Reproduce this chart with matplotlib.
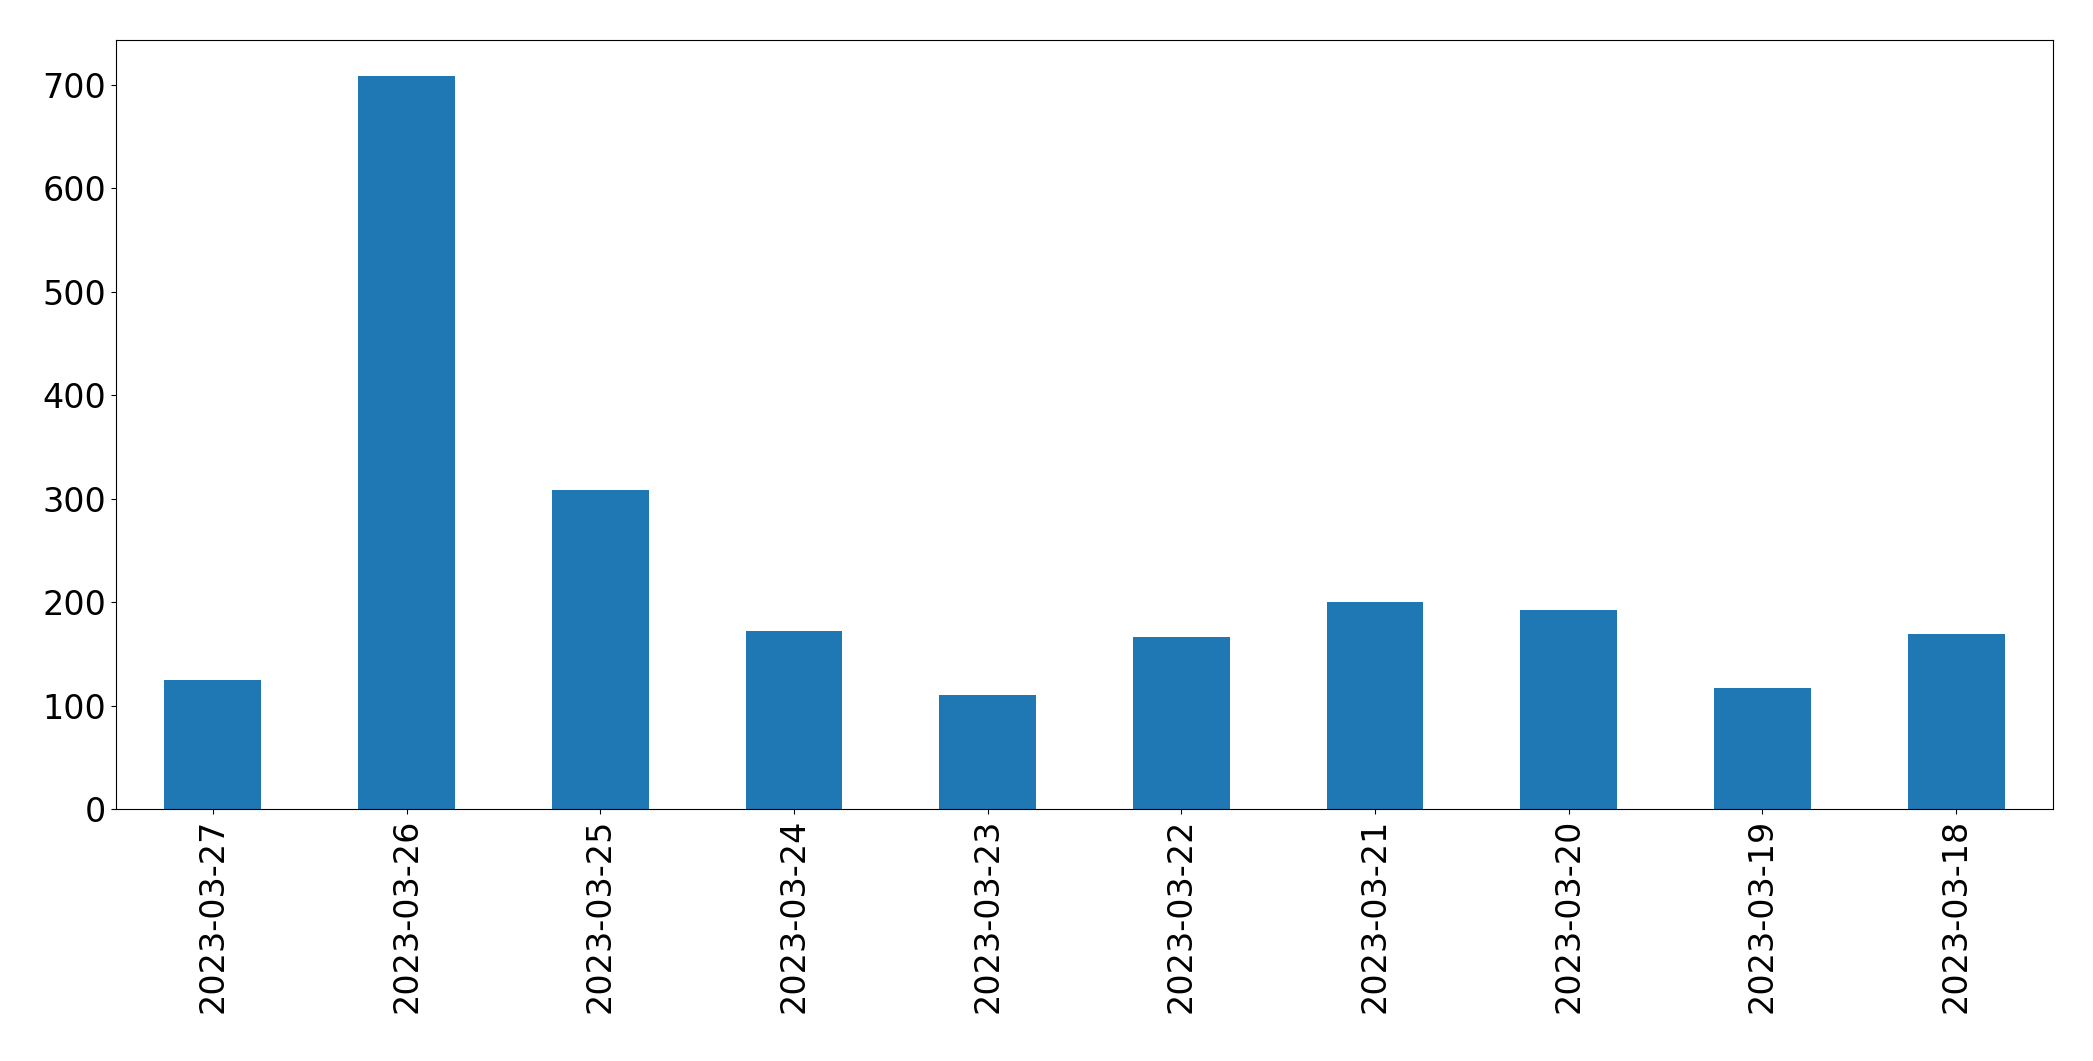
import matplotlib
matplotlib.use("Agg")
import matplotlib.pyplot as plt

dates = ["2023-03-27","2023-03-26","2023-03-25","2023-03-24","2023-03-23",
         "2023-03-22","2023-03-21","2023-03-20","2023-03-19","2023-03-18"]
counts = [125, 708, 308, 172, 110, 166, 200, 192, 117, 169]

fig = plt.figure(figsize=(20.93, 10.61), dpi=100)
ax = fig.add_axes([116/2093, 1-809/1061, (2053-116)/2093, (809-40)/1061])
x = range(len(dates))
ax.bar(x, counts, width=0.5, color="#1f77b4")
ax.set_xticks(list(x))
ax.set_xticklabels(dates, rotation=90)
ax.set_xlim(-0.5, len(dates)-0.5)
ax.set_ylim(0, 743)
ax.tick_params(labelsize=24)
fig.savefig("out.png", dpi=100)
